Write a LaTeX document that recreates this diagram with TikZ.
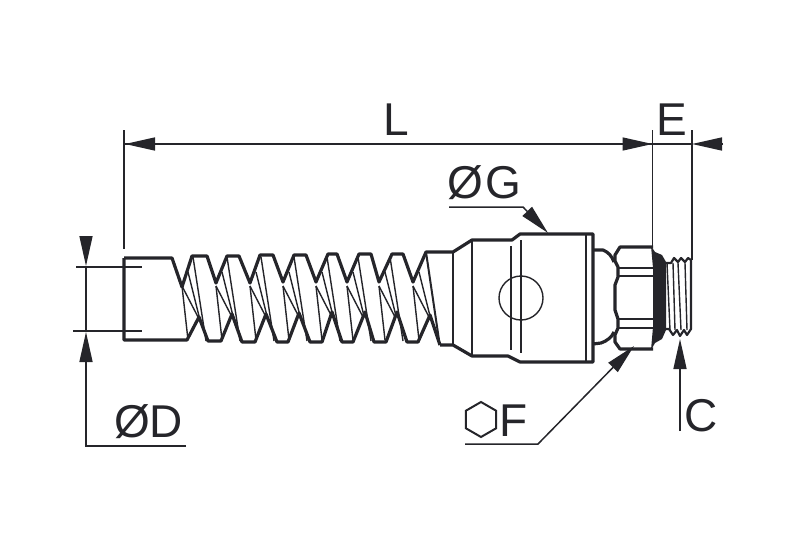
\documentclass[tikz,border=0pt]{standalone}
\usepackage{fontspec}
\setmainfont{Liberation Sans}
\usetikzlibrary{arrows.meta,shapes.geometric}
\definecolor{ink}{HTML}{25252A}
\tikzset{
    bodyline/.style={color=ink,line width=3.2pt,line join=round},
    fineline/.style={color=ink,line width=1.4pt},
    dimline/.style={color=ink,line width=1.5pt},
    dimarrow/.style={dimline,-{Triangle[length=30pt,width=13pt]}},
    dimtext/.style={color=ink,inner sep=0pt,font=\fontsize{46}{46}\selectfont},
}
\begin{document}
\begin{tikzpicture}[x=1pt,y=-1pt]
    \useasboundingbox (0,0) rectangle (787,551);
    % hose spring
    \foreach \x in {182,216,250,283,316,347,379,413} {
        \draw[fineline] (\x,286) -- (\x+6,340);
        \draw[fineline] (\x,286) -- (\x+16,317);
        \draw[fineline] (\x+6,272) -- (\x+17,316);
    }
    \foreach \x in {182,216,250,283,316,347,379}
        \draw[fineline] (\x+11,257) -- (\x+24,341);
    \draw[bodyline] (124,258) -- (172,258) -- (182,287) -- (192,256) -- (207,256) -- (216,283)
        -- (227,256) -- (239,256) -- (250,283) -- (260,255) -- (273,255) -- (283,282)
        -- (294,255) -- (306,255) -- (316,282) -- (328,254) -- (337,254) -- (347,282)
        -- (359,254) -- (371,254) -- (379,282) -- (392,254) -- (403,254) -- (413,282)
        -- (426,252) -- (453,252) -- (472,240) -- (512,240) -- (520,234) -- (593,234)
        -- (593,362) -- (520,362) -- (508,356) -- (472,356) -- (453,345) -- (440,345);
    \draw[bodyline] (124,258) -- (124,340) -- (187,340) -- (199,317) -- (208,341) -- (221,341)
        -- (232,314) -- (242,342) -- (255,342) -- (266,314) -- (277,342) -- (288,342)
        -- (299,313) -- (310,342) -- (322,342) -- (332,312) -- (342,342) -- (353,342)
        -- (365,312) -- (374,342) -- (386,342) -- (397,312) -- (407,342) -- (418,342)
        -- (430,315) -- (440,345);
    \draw[bodyline,line width=2pt] (426,252) -- (439,340);
    % body
    \draw[bodyline,line width=2.2pt] (453,252) -- (453,345);
    \draw[bodyline,line width=2.2pt] (472,240) -- (472,356);
    \draw[fineline] (511,246) -- (511,350);
    \draw[fineline] (521,240) -- (521,353);
    \draw[fineline] (586,235) -- (586,361);
    \draw[fineline] (521,298) circle (22);
    % neck
    \draw[bodyline] (593,250) -- (603,250) .. controls (608,252) and (612,256) .. (614,262);
    \draw[bodyline] (593,344) -- (601,343) .. controls (607,341) and (612,337) .. (614,332);
    % hex nut
    \draw[bodyline] (653,247) -- (620,247) -- (615,255) -- (615,261) -- (618,267) -- (618,277)
        -- (615,285) -- (615,310) -- (618,319) -- (618,328) -- (615,335) -- (615,342)
        -- (620,349) -- (653,349);
    \draw[fineline,line width=2pt] (618,267.5) -- (653,267.5);
    \draw[fineline,line width=2pt] (618,276) -- (653,276);
    \draw[fineline,line width=2pt] (618,319) -- (653,319);
    \draw[fineline,line width=2pt] (618,327.5) -- (653,327.5);
    \fill[ink] (651,246) -- (655,252) -- (662,255) -- (666,262) -- (666,330) -- (662,339)
        -- (655,343) -- (651,350) -- (653,327) -- (653,268) -- cycle;
    % thread
    \draw[bodyline,line width=2.2pt] (666,263) -- (671,263) -- (674,258) -- (678,262) -- (681,258)
        -- (685,262) -- (688,258) -- (691,260) -- (691,329) -- (687,335) -- (684,330) -- (680,336)
        -- (677,330) -- (673,335) -- (669,329) -- (666,329);
    \foreach \x/\y in {667/670,673/675,678/681,685/687}
        \draw[fineline] (\x,263) -- (\y,330);
    % dimensions
    \coordinate (Lstart) at (125,144);
    \coordinate (Lend) at (652.5,144);
    \coordinate (Eend) at (692,144);
    \coordinate (Eout) at (723,144);
    \draw[dimline] (124,130) -- (124,249);
    \draw[dimline] (652.5,130) -- (652.5,246);
    \draw[dimline] (692,130) -- (692,260);
    \draw[dimarrow] (Lend) -- (Lstart);
    \draw[dimarrow] (Lstart) -- (Lend);
    \draw[dimline] (Lend) -- (Eend);
    \draw[dimarrow] (Eout) -- (Eend);
    \node[dimtext,anchor=base] (Llabel) at (396,135) {L};
    \node[dimtext,anchor=base] (Elabel) at (671.5,135) {E};
    % diameter D
    \coordinate (Dtop) at (86,236);
    \coordinate (Dtip) at (86,266);
    \coordinate (Dlow) at (86,332);
    \coordinate (Dcorner) at (86,446);
    \coordinate (Dend) at (186,446);
    \draw[dimline] (76,267) -- (142,267);
    \draw[dimline] (73,331) -- (142,331);
    \draw[dimline] (Dtip) -- (Dlow);
    \draw[dimarrow] (Dtop) -- (Dtip);
    \draw[dimarrow] (Dend) -- (Dcorner) -- (Dlow);
    \node[dimtext,anchor=base west] (Dlabel) at (114,437) {ØD};
    % diameter G
    \coordinate (Gstart) at (449,207);
    \coordinate (Gbend) at (523,207);
    \coordinate (Gtip) at (548,233);
    \draw[dimarrow] (Gstart) -- (Gbend) -- (Gtip);
    \node[dimtext,anchor=base west] (Glabel) at (447,198) {Ø\kern3ptG};
    % hexagon F
    \coordinate (Fstart) at (465,444);
    \coordinate (Fbend) at (538,444);
    \coordinate (Ftip) at (634,346);
    \draw[dimarrow] (Fstart) -- (Fbend) -- (Ftip);
    \node[draw=ink,line width=2pt,regular polygon,regular polygon sides=6,shape border rotate=30,
        inner sep=0pt,minimum size=35pt] (hexF) at (481,419.5) {};
    \node[dimtext,anchor=base west] (Flabel) at (499,436) {F};
    % thread C
    \coordinate (Cstart) at (680,431);
    \coordinate (Ctip) at (680,339);
    \draw[dimarrow] (Cstart) -- (Ctip);
    \node[dimtext,anchor=base west] (Clabel) at (684,431) {C};
\end{tikzpicture}
\end{document}
